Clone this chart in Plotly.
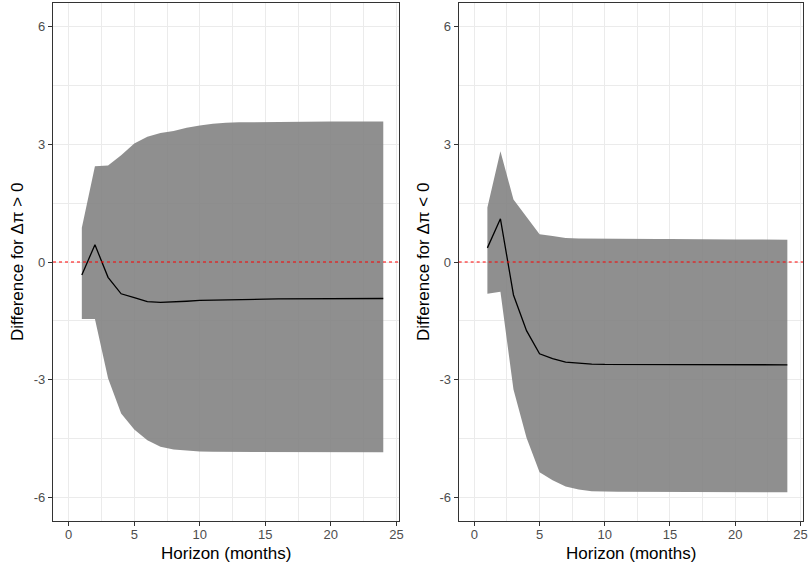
import plotly.graph_objects as go

horizon = list(range(1, 25))

# Panel 1: Δπ > 0
pos_mean = [-0.33, 0.44, -0.39, -0.81, -0.91, -1.01, -1.03, -1.02, -1.00, -0.98,
            -0.97, -0.96, -0.955, -0.95, -0.945, -0.94, -0.94, -0.935, -0.935, -0.935,
            -0.93, -0.93, -0.93, -0.93]
pos_upper = [0.87, 2.44, 2.46, 2.72, 3.02, 3.19, 3.29, 3.34, 3.42, 3.48,
             3.52, 3.55, 3.56, 3.565, 3.57, 3.57, 3.575, 3.575, 3.575, 3.58,
             3.58, 3.58, 3.58, 3.58]
pos_lower = [-1.45, -1.45, -2.96, -3.86, -4.27, -4.54, -4.71, -4.78, -4.81, -4.83,
             -4.835, -4.84, -4.84, -4.84, -4.84, -4.845, -4.845, -4.845, -4.85, -4.85,
             -4.85, -4.85, -4.85, -4.85]

# Panel 2: Δπ < 0
neg_mean = [0.36, 1.10, -0.84, -1.75, -2.34, -2.46, -2.55, -2.58, -2.60, -2.61,
            -2.61, -2.61, -2.61, -2.61, -2.61, -2.615, -2.615, -2.615, -2.615, -2.62,
            -2.62, -2.62, -2.62, -2.62]
neg_upper = [1.39, 2.82, 1.59, 1.15, 0.71, 0.66, 0.61, 0.60, 0.595, 0.59,
             0.59, 0.59, 0.585, 0.585, 0.585, 0.58, 0.58, 0.58, 0.575, 0.575,
             0.575, 0.57, 0.57, 0.57]
neg_lower = [-0.81, -0.76, -3.25, -4.48, -5.36, -5.56, -5.72, -5.80, -5.84, -5.85,
             -5.855, -5.855, -5.86, -5.86, -5.86, -5.86, -5.865, -5.865, -5.865, -5.87,
             -5.87, -5.87, -5.87, -5.87]

y_titles = ["Difference for Δπ > 0", "Difference for Δπ < 0"]
x_title = "Horizon (months)"
x_ticks = [0, 5, 10, 15, 20, 25]
y_ticks = [-6, -3, 0, 3, 6]

RIBBON = "rgba(127,127,127,0.88)"
FONT = "Liberation Sans, Arial, sans-serif"

fig = go.Figure()
panels = [(pos_mean, pos_upper, pos_lower), (neg_mean, neg_upper, neg_lower)]
for i, (m, up, lo) in enumerate(panels):
    xa = "x" if i == 0 else "x2"
    ya = "y" if i == 0 else "y2"
    fig.add_trace(go.Scatter(
        x=horizon + horizon[::-1], y=up + lo[::-1],
        fill="toself", fillcolor=RIBBON, line=dict(width=0),
        mode="lines", hoverinfo="skip", showlegend=False, xaxis=xa, yaxis=ya))
    fig.add_trace(go.Scatter(
        x=horizon, y=m, mode="lines", line=dict(color="black", width=1.3),
        showlegend=False, xaxis=xa, yaxis=ya))

xdoms = [[53 / 809, 399 / 809], [458.7 / 809, 803 / 809]]
ydom = [(569 - 521) / 569, (569 - 3) / 569]

axis_common = dict(
    showline=True, linecolor="#333333", linewidth=1.2, mirror=True,
    ticks="outside", ticklen=4, tickwidth=1.1, tickcolor="#333333",
    tickfont=dict(family=FONT, size=13, color="#4D4D4D"),
    showgrid=True, gridcolor="#EBEBEB", gridwidth=1.1,
    zeroline=False, automargin=False,
)

layout = dict(
    width=809, height=569,
    margin=dict(l=0, r=0, t=0, b=0),
    paper_bgcolor="white", plot_bgcolor="white",
    showlegend=False,
)
for i in range(2):
    xk = "xaxis" if i == 0 else "xaxis2"
    yk = "yaxis" if i == 0 else "yaxis2"
    layout[xk] = dict(axis_common, domain=xdoms[i], range=[-1.2, 25.2],
                      tickmode="array", tickvals=x_ticks,
                      ticktext=[str(t) for t in x_ticks],
                      ticklabelstandoff=-3,
                      minor=dict(dtick=2.5, tick0=0, showgrid=True,
                                 gridcolor="#EBEBEB", gridwidth=0.6, ticklen=0),
                      anchor="y" if i == 0 else "y2")
    layout[yk] = dict(axis_common, domain=ydom, range=[-6.6, 6.6],
                      tickmode="array", tickvals=y_ticks,
                      ticktext=[str(t) for t in y_ticks],
                      minor=dict(dtick=1.5, tick0=0, showgrid=True,
                                 gridcolor="#EBEBEB", gridwidth=0.6, ticklen=0),
                      anchor="x" if i == 0 else "x2")
fig.update_layout(**layout)

for i in range(2):
    xr = "x domain" if i == 0 else "x2 domain"
    yr = "y" if i == 0 else "y2"
    fig.add_shape(type="line", xref=xr, yref=yr, x0=0, x1=1, y0=0, y1=0,
                  line=dict(color="#FF0000", width=1.2, dash="dot"), layer="above")

annotations = []
for i in range(2):
    cx = sum(xdoms[i]) / 2
    annotations.append(dict(
        text=x_title, xref="paper", yref="paper", x=cx, y=(569 - 553) / 569,
        xanchor="center", yanchor="middle", showarrow=False,
        font=dict(family=FONT, size=17, color="black")))
    lx = (17 if i == 0 else 423) / 809
    annotations.append(dict(
        text=y_titles[i], xref="paper", yref="paper", x=lx, y=sum(ydom) / 2,
        xanchor="center", yanchor="middle", textangle=-90, showarrow=False,
        font=dict(family=FONT, size=17, color="black")))
fig.update_layout(annotations=annotations)

fig.write_html("out.html",
               config={"displayModeBar": False},
               post_script="document.body.style.margin='0';document.body.style.overflow='hidden';")
